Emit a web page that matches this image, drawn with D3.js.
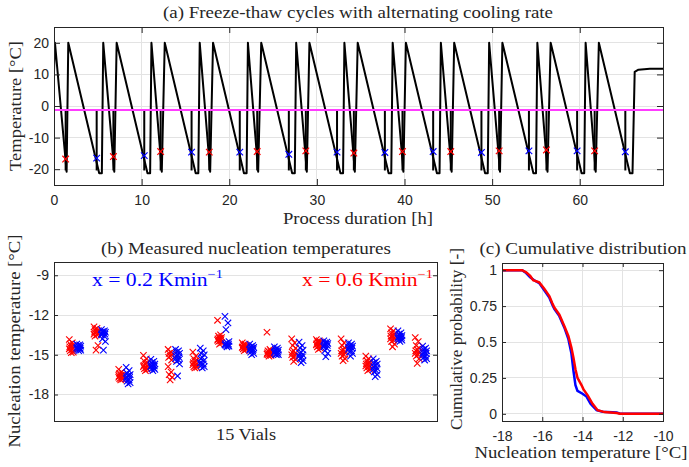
<!DOCTYPE html>
<html><head><meta charset="utf-8">
<script src="https://cdn.jsdelivr.net/npm/d3@7"></script>
<style>body{margin:0;background:#fff}svg{display:block;background:#fff}</style>
</head><body>
<svg id="chart" width="689" height="467"></svg>
<script>
// ---------- Panel (a) data ----------
const fastPeakTimes    = [0.11,5.62,11.12,16.63,22.13,27.64,33.14,38.65,44.15,49.66,55.16,60.67];
const fastBottomTimes  = [1.44,6.88,12.30,17.82,23.30,28.85,34.33,39.87,45.38,50.90,56.32,61.82];
const slowPeakTimes    = [1.63,7.15,12.64,18.15,23.65,29.15,34.66,40.16,45.67,51.17,56.68,62.18];
const slowBottomStart  = [5.16,10.67,16.17,21.68,27.18,32.69,38.19,43.70,49.20,54.71,60.21,65.72];
const slowBottomEnd    = [5.46,10.97,16.47,21.98,27.48,32.99,38.49,44.00,49.50,55.01,60.51,66.02];
const peakTemp = 20, fastBottomTemp = -20.8, slowBottomTemp = -21.3, startTemp = 11;
const tailPoints = [[66.27,10.8],[66.7,11.5],[68.0,11.8],[69.5,11.8]];
const equilibriumTemp = -1.3;
const redNucTimes  = [1.33,6.78,12.17,17.72,23.19,28.74,34.22,39.77,45.28,50.80,56.20,61.70];
const redNucTemps  = [-16.8,-16.0,-14.4,-14.6,-14.4,-14.2,-14.9,-14.4,-14.4,-14.2,-13.9,-14.2];
const blueNucTimes = [4.87,10.30,15.70,21.20,26.80,32.30,37.76,43.27,48.78,54.20,59.70,65.20];
const blueNucTemps = [-16.5,-15.7,-14.6,-14.6,-15.3,-14.6,-14.7,-14.4,-14.7,-14.2,-14.2,-14.5];
const xTicksA = [0,10,20,30,40,50,60];
const yTicksA = [-20,-10,0,10,20];

// ---------- Panel (b) data: 15 vials, 12 cycles per cooling rate ----------
const vialsRed = [
 [-13.85,-14.1,-14.2,-14.3,-14.35,-14.4,-14.5,-14.55,-14.6,-14.7,-14.8,-14.85],
 [-12.9,-13.0,-13.1,-13.2,-13.25,-13.3,-13.4,-13.45,-13.5,-13.6,-14.3,-14.65],
 [-16.1,-16.3,-16.4,-16.5,-16.55,-16.6,-16.65,-16.7,-16.75,-16.8,-16.85,-16.9],
 [-15.05,-15.3,-15.5,-15.6,-15.7,-15.8,-15.85,-15.9,-16.0,-16.05,-16.1,-16.2],
 [-14.6,-14.8,-14.9,-15.0,-15.1,-15.2,-15.4,-15.9,-16.3,-16.5,-16.7,-16.9],
 [-14.8,-15.1,-15.3,-15.4,-15.5,-15.6,-15.7,-15.75,-15.8,-15.9,-15.95,-16.0],
 [-12.4,-13.5,-13.6,-13.7,-13.75,-13.8,-13.85,-13.9,-13.95,-14.0,-14.1,-14.2],
 [-14.1,-14.2,-14.25,-14.3,-14.35,-14.4,-14.4,-14.45,-14.5,-14.55,-14.6,-14.7],
 [-13.3,-14.6,-14.7,-14.75,-14.8,-14.85,-14.9,-14.95,-15.0,-15.0,-15.05,-15.1],
 [-13.8,-14.1,-14.3,-14.5,-14.7,-14.8,-14.9,-15.0,-15.1,-15.2,-15.35,-15.5],
 [-13.85,-13.95,-14.0,-14.05,-14.1,-14.15,-14.2,-14.25,-14.3,-14.4,-14.5,-14.6],
 [-13.8,-14.1,-14.3,-14.5,-14.6,-14.7,-14.8,-14.9,-15.0,-15.1,-15.3,-15.45],
 [-15.1,-15.3,-15.45,-15.55,-15.65,-15.7,-15.8,-15.85,-15.9,-16.0,-16.1,-16.2],
 [-13.05,-13.2,-13.35,-13.45,-13.55,-13.6,-13.7,-13.8,-13.9,-14.0,-14.2,-14.4],
 [-13.7,-14.0,-14.3,-14.5,-14.6,-14.7,-14.8,-14.9,-15.0,-15.1,-15.3,-15.65]
];
const vialsBlue = [
 [-14.2,-14.25,-14.3,-14.35,-14.4,-14.45,-14.5,-14.5,-14.55,-14.6,-14.65,-14.7],
 [-13.1,-13.2,-13.25,-13.3,-13.35,-13.4,-13.45,-13.5,-13.6,-13.8,-14.0,-14.65],
 [-15.95,-16.2,-16.4,-16.5,-16.6,-16.65,-16.7,-16.8,-16.9,-17.0,-17.1,-17.2],
 [-15.35,-15.5,-15.6,-15.7,-15.75,-15.8,-15.85,-15.9,-16.0,-16.05,-16.1,-16.2],
 [-14.6,-14.7,-14.8,-14.9,-15.0,-15.1,-15.2,-15.3,-15.4,-15.5,-15.7,-16.6],
 [-14.5,-14.7,-14.9,-15.0,-15.2,-15.3,-15.45,-15.6,-15.7,-15.8,-15.9,-16.0],
 [-12.1,-12.6,-13.1,-14.0,-14.1,-14.15,-14.2,-14.25,-14.3,-14.3,-14.35,-14.4],
 [-14.2,-14.3,-14.4,-14.45,-14.5,-14.55,-14.6,-14.65,-14.7,-14.8,-14.9,-15.0],
 [-14.4,-14.5,-14.6,-14.65,-14.7,-14.75,-14.8,-14.85,-14.9,-14.95,-15.0,-15.0],
 [-14.05,-14.3,-14.5,-14.65,-14.8,-14.9,-15.0,-15.1,-15.2,-15.3,-15.45,-15.6],
 [-13.95,-14.05,-14.1,-14.15,-14.2,-14.25,-14.3,-14.4,-14.5,-14.7,-14.9,-15.15],
 [-14.1,-14.2,-14.3,-14.35,-14.4,-14.45,-14.5,-14.6,-14.7,-14.8,-14.9,-15.1],
 [-15.3,-15.5,-15.6,-15.7,-15.8,-15.9,-16.0,-16.1,-16.2,-16.3,-16.5,-16.65],
 [-13.2,-13.35,-13.45,-13.55,-13.6,-13.65,-13.7,-13.75,-13.8,-13.85,-13.9,-14.0],
 [-14.35,-14.5,-14.6,-14.7,-14.8,-14.85,-14.9,-15.0,-15.1,-15.2,-15.3,-15.4]
];
const yTicksB = [-9,-12,-15,-18];

// ---------- Panel (c) data ----------
const cdfRed = [[-18,1],[-17.0,1],[-16.8,0.985],[-16.6,0.96],[-16.45,0.93],[-16.15,0.915],[-15.9,0.87],[-15.65,0.82],[-15.5,0.77],[-15.4,0.74],[-15.15,0.69],[-14.9,0.61],[-14.7,0.54],[-14.55,0.46],[-14.45,0.39],[-14.35,0.31],[-14.25,0.25],[-14.05,0.2],[-13.95,0.17],[-13.75,0.13],[-13.5,0.07],[-13.25,0.025],[-12.9,0.012],[-12.3,0.005],[-12.15,0],[-10,0]];
const cdfBlue = [[-18,1],[-17.0,1],[-16.8,0.98],[-16.6,0.95],[-16.4,0.93],[-16.15,0.91],[-15.9,0.86],[-15.65,0.81],[-15.5,0.76],[-15.4,0.73],[-15.15,0.68],[-14.9,0.6],[-14.7,0.52],[-14.55,0.42],[-14.45,0.3],[-14.35,0.2],[-14.25,0.16],[-14.0,0.14],[-13.8,0.12],[-13.6,0.07],[-13.3,0.025],[-13.0,0.015],[-12.3,0.01],[-12.1,0],[-10,0]];
const xTicksC = [-18,-16,-14,-12,-10];
const yTicksC = [0,0.25,0.5,0.75,1];

// ---------- Drawing ----------
const svg = d3.select("#chart");
const AX = "#262626", GRID = "#e3e3e3";
const SERIF = "'Liberation Serif','DejaVu Serif',serif";
const SANS = "'Liberation Sans',Arial,sans-serif";

function frame(g, x, y, xt, yt, opts) {
  const [x0,x1] = x.range(), [y0,y1] = [y.range()[1], y.range()[0]];
  if (opts.gridX) g.append("g").selectAll("line").data(xt).join("line")
     .attr("x1",d=>x(d)).attr("x2",d=>x(d)).attr("y1",y0).attr("y2",y1)
     .attr("stroke",GRID).attr("stroke-width",1).attr("shape-rendering","crispEdges");
  if (opts.gridY) g.append("g").selectAll("line").data(yt).join("line")
     .attr("y1",d=>y(d)).attr("y2",d=>y(d)).attr("x1",x0).attr("x2",x1)
     .attr("stroke",GRID).attr("stroke-width",1).attr("shape-rendering","crispEdges");
}
function axes(g, x, y, xt, yt, opts) {
  const [x0,x1] = x.range(), [y0,y1] = [y.range()[1], y.range()[0]];
  const tl = opts.tick || 5;
  const style = s => s.call(a=>a.select(".domain").remove())
      .call(a=>a.selectAll("line").attr("stroke",AX))
      .call(a=>a.selectAll("text").attr("fill",AX).attr("font-family",SANS).attr("font-size",14));
  if (xt.length) {
    g.append("g").attr("transform",`translate(0,${y1})`)
     .call(d3.axisBottom(x).tickValues(xt).tickSizeInner(-tl).tickSizeOuter(0).tickPadding(10).tickFormat(opts.xfmt||d3.format("d"))).call(style);
    g.append("g").attr("transform",`translate(0,${y0})`)
     .call(d3.axisTop(x).tickValues(xt).tickSizeInner(-tl).tickSizeOuter(0).tickFormat("")).call(style);
  }
  g.append("g").attr("transform",`translate(${x0},0)`)
   .call(d3.axisLeft(y).tickValues(yt).tickSizeInner(-tl).tickSizeOuter(0).tickPadding(5).tickFormat(opts.yfmt||d3.format("d"))).call(style);
  g.append("g").attr("transform",`translate(${x1},0)`)
   .call(d3.axisRight(y).tickValues(yt).tickSizeInner(-tl).tickSizeOuter(0).tickFormat("")).call(style);
  g.selectAll("text").each(function(){ const t=d3.select(this); t.text(t.text().replace("−","-")); });
  g.append("rect").attr("x",x0).attr("y",y0).attr("width",x1-x0).attr("height",y1-y0)
   .attr("fill","none").attr("stroke",AX).attr("stroke-width",1).attr("shape-rendering","crispEdges");
}
function label(txt, cx, cy, len, opts={}) {
  const t = svg.append("text").attr("font-family",SERIF).attr("font-size",opts.size||16)
    .attr("fill",opts.color||AX).attr("text-anchor",opts.anchor||"middle")
    .attr("textLength",len).attr("lengthAdjust","spacingAndGlyphs");
  if (opts.rot) t.attr("transform",`translate(${cx},${cy}) rotate(-90)`).attr("dy","0.35em");
  else t.attr("x",cx).attr("y",cy).attr("dy","0.35em");
  t.text(txt);
  return t;
}
const xMark = r => `M${-r},${-r}L${r},${r}M${-r},${r}L${r},${-r}`;

// Panel (a)
{
  const x = d3.scaleLinear([0,69.5],[54,663]);
  const y = d3.scaleLinear([-25,25],[185,27]);
  const g = svg.append("g");
  frame(g,x,y,xTicksA,yTicksA,{gridX:true,gridY:true});
  const trace = [[0,startTemp]];
  fastPeakTimes.forEach((t,k)=>{
    trace.push([t,peakTemp],[fastBottomTimes[k],fastBottomTemp],[slowPeakTimes[k],peakTemp],
               [slowBottomStart[k],slowBottomTemp],[slowBottomEnd[k],slowBottomTemp]);
  });
  tailPoints.forEach(p=>trace.push(p));
  g.append("clipPath").attr("id","clipA").append("rect").attr("x",54).attr("y",27).attr("width",609).attr("height",158);
  const pg = g.append("g").attr("clip-path","url(#clipA)");
  pg.append("path").datum(trace).attr("d",d3.line(d=>x(d[0]),d=>y(d[1])))
    .attr("fill","none").attr("stroke","#000").attr("stroke-width",2).attr("stroke-linejoin","round");
  const spikes = redNucTimes.concat(blueNucTimes);
  pg.append("g").selectAll("line").data(spikes).join("line")
    .attr("x1",d=>x(d)).attr("x2",d=>x(d)).attr("y1",y(equilibriumTemp)).attr("y2",y(-20.4))
    .attr("stroke","#000").attr("stroke-width",2);
  pg.append("line").attr("x1",x(0)).attr("x2",x(69.5)).attr("y1",y(equilibriumTemp)).attr("y2",y(equilibriumTemp))
    .attr("stroke","#ff3cff").attr("stroke-width",2);
  pg.append("g").selectAll("path").data(redNucTimes.map((t,i)=>[t,redNucTemps[i]])).join("path")
    .attr("d",xMark(3.3)).attr("transform",d=>`translate(${x(d[0])},${y(d[1])})`)
    .attr("stroke","#ff0000").attr("stroke-width",1.2).attr("fill","none");
  pg.append("g").selectAll("path").data(blueNucTimes.map((t,i)=>[t,blueNucTemps[i]])).join("path")
    .attr("d",xMark(3.3)).attr("transform",d=>`translate(${x(d[0])},${y(d[1])})`)
    .attr("stroke","#0000ff").attr("stroke-width",1.2).attr("fill","none");
  axes(g,x,y,xTicksA,yTicksA,{tick:6});
  label("(a) Freeze-thaw cycles with alternating cooling rate",358,12,390);
  label("Process duration [h]",358,218,150);
  label("Temperature [°C]",15,106,130,{rot:true});
}

// Panel (b)
{
  const x = d3.scaleLinear([0,15.5],[54,437]);
  const y = d3.scaleLinear([-20,-8],[421,262]);
  const g = svg.append("g");
  frame(g,x,y,[],yTicksB,{gridY:true});
  const jit = [-2,1,-1,2,0,-1.5,1.5];
  const pts = (arr, off) => arr.flatMap((vals,i)=>vals.map((v,k)=>({x:x(i+1+off)+jit[k%jit.length], y:y(v)})));
  const mg = g.append("g");
  mg.selectAll("path.r").data(pts(vialsRed,-0.3)).join("path").attr("class","r")
    .attr("d",xMark(3.2)).attr("transform",d=>`translate(${d.x},${d.y})`)
    .attr("stroke","#ff0000").attr("stroke-width",1.1).attr("fill","none");
  mg.selectAll("path.b").data(pts(vialsBlue,0)).join("path").attr("class","b")
    .attr("d",xMark(3.2)).attr("transform",d=>`translate(${d.x},${d.y})`)
    .attr("stroke","#0000ff").attr("stroke-width",1.1).attr("fill","none");
  axes(g,x,y,[],yTicksB,{tick:4});
  label("(b) Measured nucleation temperatures",246,248,290);
  label("15 Vials",246,434,60);
  label("Nucleation temperature [°C]",14,341,213,{rot:true});
  const leg = (txt,px,anchor,color,len) => {
    const t = svg.append("text").attr("x",px).attr("y",286).attr("font-family",SERIF).attr("font-size",18)
      .attr("fill",color).attr("text-anchor",anchor).attr("textLength",len).attr("lengthAdjust","spacingAndGlyphs");
    t.append("tspan").text(txt);
    t.append("tspan").attr("font-size",12).attr("dy",-8).text("−1");
  };
  leg("x = 0.2 Kmin",92,"start","#0000ff",131);
  leg("x = 0.6 Kmin",433,"end","#ff0000",131);
}

// Panel (c)
{
  const x = d3.scaleLinear([-18,-10],[502,663]);
  const y = d3.scaleLinear([-0.05,1.05],[421,263]);
  const g = svg.append("g");
  frame(g,x,y,xTicksC,yTicksC,{gridX:true,gridY:true});
  const line = d3.line(d=>x(d[0]),d=>y(d[1]));
  g.append("path").datum(cdfBlue).attr("d",line).attr("fill","none").attr("stroke","#0000ff").attr("stroke-width",2.5);
  g.append("path").datum(cdfRed).attr("d",line).attr("fill","none").attr("stroke","#ff0000").attr("stroke-width",2.5);
  axes(g,x,y,xTicksC,yTicksC,{tick:4,yfmt:d=>String(d)});
  label("(c) Cumulative distribution",583,248,207);
  label("Nucleation temperature [°C]",581,452,213);
  label("Cumulative probability [-]",456,339,182,{rot:true});
}
</script>
</body></html>
